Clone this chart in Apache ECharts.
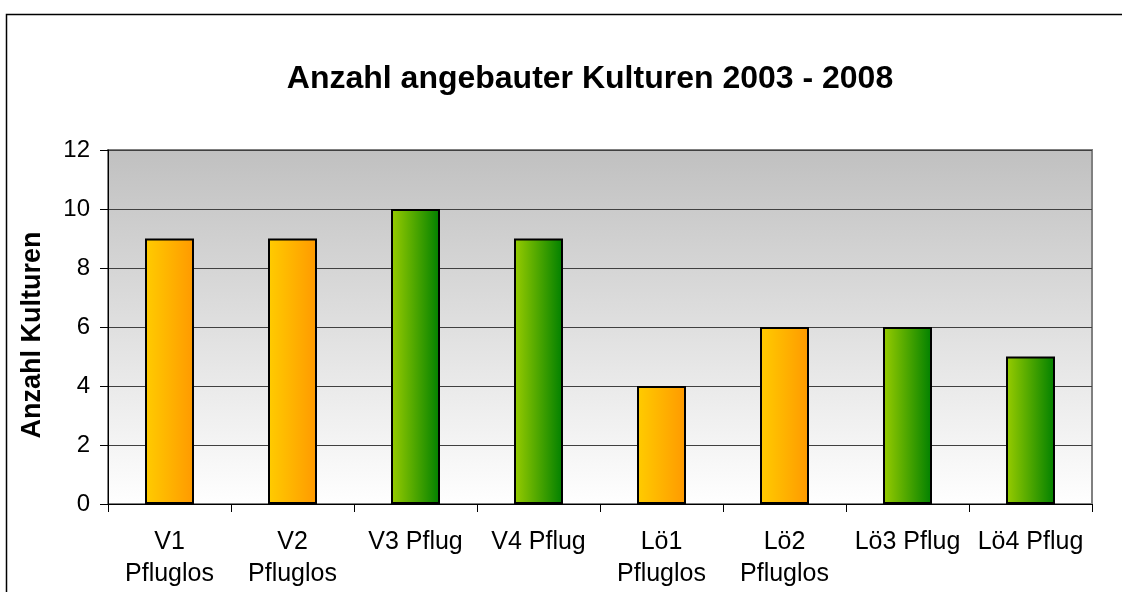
<!DOCTYPE html>
<html>
<head>
<meta charset="utf-8">
<script src="https://cdn.jsdelivr.net/npm/echarts@6/dist/echarts.min.js"></script>
<style>
  html, body { margin: 0; padding: 0; background: #fff; }
  #chart { width: 1122px; height: 592px; }
</style>
</head>
<body>
<div id="chart"></div>
<script>
const categories = ['V1\nPfluglos', 'V2\nPfluglos', 'V3 Pflug', 'V4 Pflug', 'Lö1\nPfluglos', 'Lö2\nPfluglos', 'Lö3 Pflug', 'Lö4 Pflug']
const anzahl = [9, 9, 10, 9, 4, 6, 6, 5]
const yTicks = [0, 2, 4, 6, 8, 10, 12]

const fontFamily = "'Liberation Sans', Arial, sans-serif"

// orange = pfluglos, green = pflug
const orange = new echarts.graphic.LinearGradient(0, 0, 1, 0, [
  { offset: 0, color: '#FFCC00' },
  { offset: 1, color: '#FF9900' }
])
const green = new echarts.graphic.LinearGradient(0, 0, 1, 0, [
  { offset: 0, color: '#99CC00' },
  { offset: 1, color: '#008000' }
])

const myChart = echarts.init(document.getElementById('chart'))

const option = {
  animation: false,
  title: {
    text: 'Anzahl angebauter Kulturen 2003 - 2008',
    left: 585,
    textAlign: 'center',
    top: 58,
    textStyle: {
      color: '#000',
      fontWeight: 'bold',
      fontFamily: fontFamily,
      fontSize: 32
    }
  },
  graphic: [
    {
      type: 'rect',
      shape: { x: 6.5, y: 14.5, width: 1140, height: 620 },
      style: { fill: 'none', stroke: '#000', lineWidth: 1.5 },
      silent: true
    },
    {
      type: 'text',
      x: 33,
      y: 335,
      rotation: Math.PI / 2,
      style: {
        text: 'Anzahl Kulturen',
        fill: '#000',
        font: 'bold 27px ' + fontFamily,
        align: 'center',
        verticalAlign: 'middle'
      }
    }
  ],
  grid: {
    left: 108,
    right: 30,
    top: 150,
    bottom: 88,
    show: true,
    borderColor: '#808080',
    borderWidth: 2,
    backgroundColor: new echarts.graphic.LinearGradient(0, 0, 0, 1, [
      { offset: 0, color: '#C0C0C0' },
      { offset: 1, color: '#FFFFFF' }
    ])
  },
  xAxis: {
    type: 'category',
    data: categories,
    axisLine: { lineStyle: { color: '#000', width: 1 } },
    axisTick: { show: true, length: 8, lineStyle: { color: '#000' } },
    axisLabel: {
      color: '#000',
      fontFamily: fontFamily,
      fontSize: 25,
      lineHeight: 32,
      margin: 22,
      interval: 0
    }
  },
  yAxis: {
    type: 'value',
    min: yTicks[0],
    max: yTicks[yTicks.length - 1],
    interval: 2,
    axisLine: { show: true, lineStyle: { color: '#000', width: 1 } },
    axisTick: { show: true, length: 8, lineStyle: { color: '#000' } },
    axisLabel: {
      color: '#000',
      fontFamily: fontFamily,
      fontSize: 24,
      margin: 18
    },
    splitLine: { lineStyle: { color: '#404040', width: 1 } }
  },
  series: [
    {
      type: 'bar',
      barWidth: 49,
      data: anzahl.map((v, i) => ({
        value: v,
        itemStyle: { color: categories[i].indexOf('Pfluglos') >= 0 ? orange : green }
      })),
      itemStyle: { borderColor: '#000', borderWidth: 2 }
    }
  ]
}

option && myChart.setOption(option)
</script>
</body>
</html>
